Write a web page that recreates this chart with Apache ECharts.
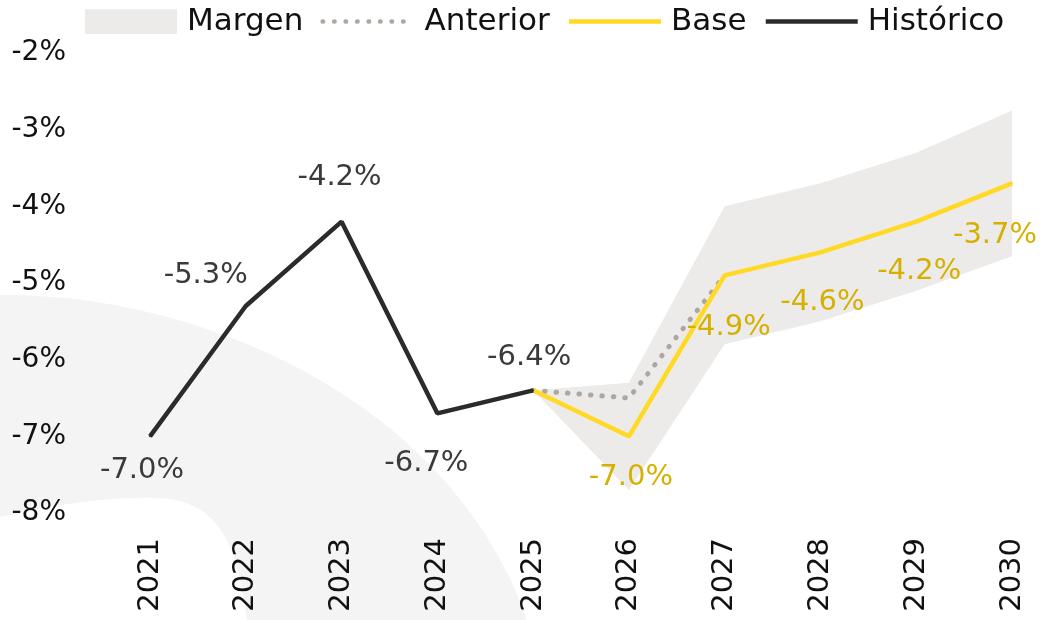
<!DOCTYPE html>
<html>
<head>
<meta charset="utf-8">
<script src="https://cdn.jsdelivr.net/npm/echarts@6/dist/echarts.min.js"></script>
<style>
  html, body { margin: 0; padding: 0; background: #fff; }
  #chart { width: 1043px; height: 620px; }
</style>
</head>
<body>
<div id="chart"></div>
<script>
// datos
const years = ['2021', '2022', '2023', '2024', '2025', '2026', '2027', '2028', '2029', '2030'];
const historico = [-7.0, -5.3, -4.2, -6.7, -6.4, null, null, null, null, null];
const base = [null, null, null, null, -6.4, -7.0, -4.9, -4.6, -4.2, -3.7];
const anterior = [null, null, null, null, -6.4, -6.5, -4.9, null, null, null];
const margenLow = [null, null, null, null, -6.4, -7.7, -5.8, -5.5, -5.1, -4.65];
const margenHigh = [null, null, null, null, -6.4, -6.3, -4.0, -3.7, -3.3, -2.75];
const yTicks = [-8, -7, -6, -5, -4, -3, -2];

// desplazamiento de etiquetas (centro respecto al punto)
const histOffsets = [[-8, 34], [-40, -31], [-2, -44], [-11, 50], [-4, -33]];
const baseOffsets = { 5: [2, 41], 6: [4, 52], 7: [2, 50], 8: [3, 50], 9: [-17, 52] };

const FONT = 'DejaVu Sans';
const fmt = v => v.toFixed(1) + '%';

// arco decorativo de fondo (curvas bezier muestreadas)
function bezier(p0, p1, p2, p3, n) {
  const pts = [];
  for (let i = 0; i <= n; i++) {
    const t = i / n, u = 1 - t;
    pts.push([
      u * u * u * p0[0] + 3 * u * u * t * p1[0] + 3 * u * t * t * p2[0] + t * t * t * p3[0],
      u * u * u * p0[1] + 3 * u * u * t * p1[1] + 3 * u * t * t * p2[1] + t * t * t * p3[1]
    ]);
  }
  return pts;
}
const arcPoints = [].concat(
  bezier([0, 295], [200, 293], [450, 400], [527, 620], 40),
  bezier([247, 620], [238, 560], [228, 502], [160, 498], 20),
  bezier([160, 498], [100, 496], [40, 508], [0, 517], 20)
);

const chart = echarts.init(document.getElementById('chart'));

const margenWidth = margenHigh.map((h, i) => (h == null || margenLow[i] == null) ? null : +(h - margenLow[i]).toFixed(3));

const histData = historico.map((v, i) => {
  if (v == null) return null;
  return {
    value: v,
    label: { show: true, position: 'inside', offset: histOffsets[i] }
  };
});

const baseData = base.map((v, i) => {
  if (v == null) return null;
  const off = baseOffsets[i];
  return {
    value: v,
    label: off ? { show: true, position: 'inside', offset: off } : { show: false }
  };
});

chart.setOption({
  animation: false,
  textStyle: { fontFamily: FONT },
  graphic: [{
    type: 'polygon',
    z: -10,
    shape: { points: arcPoints },
    style: { fill: '#f4f4f4' },
    silent: true
  }],
  legend: {
    top: 6,
    left: 85,
    padding: 0,
    itemWidth: 92,
    itemHeight: 25,
    itemGap: 17,
    itemStyle: { opacity: 0 },
    lineStyle: { width: 4.5 },
    textStyle: { fontSize: 31, color: '#111', fontFamily: FONT, padding: [0, 0, 0, 5] },
    data: [
      { name: 'Margen', icon: 'rect', itemStyle: { opacity: 1 } },
      { name: 'Anterior' },
      { name: 'Base' },
      { name: 'Histórico' }
    ]
  },
  grid: { left: 150, right: 31, top: 53, bottom: 107, containLabel: false },
  xAxis: {
    type: 'category',
    data: years,
    boundaryGap: false,
    axisLine: { show: false },
    axisTick: { show: false },
    splitLine: { show: false },
    axisLabel: {
      rotate: 90,
      margin: 25,
      fontSize: 29,
      color: '#111',
      fontFamily: FONT
    }
  },
  yAxis: {
    type: 'value',
    min: yTicks[0],
    max: yTicks[yTicks.length - 1],
    interval: 1,
    axisLine: { show: false },
    axisTick: { show: false },
    splitLine: { show: false },
    axisLabel: {
      margin: 84,
      fontSize: 28,
      color: '#111',
      fontFamily: FONT,
      formatter: v => v + '%'
    }
  },
  series: [
    {
      name: 'margenBase',
      type: 'line',
      stack: 'margen',
      stackStrategy: 'all',
      data: margenLow,
      symbol: 'none',
      lineStyle: { opacity: 0 },
      silent: true,
      z: 1
    },
    {
      name: 'Margen',
      type: 'line',
      stack: 'margen',
      stackStrategy: 'all',
      data: margenWidth,
      symbol: 'none',
      color: '#ecebe9',
      lineStyle: { opacity: 0 },
      areaStyle: { color: '#ecebe9', opacity: 1 },
      silent: true,
      z: 1
    },
    {
      name: 'Anterior',
      type: 'line',
      data: anterior,
      symbol: 'none',
      color: '#aea69f',
      lineStyle: { color: '#aea69f', width: 5, type: [0.5, 11], cap: 'round' },
      z: 2
    },
    {
      name: 'Base',
      type: 'line',
      data: baseData,
      symbol: 'circle',
      symbolSize: 2,
      color: '#ffd923',
      itemStyle: { color: '#ffd923' },
      lineStyle: { color: '#ffd923', width: 4.5 },
      label: {
        fontSize: 29,
        color: '#d6b000',
        fontFamily: FONT,
        formatter: p => fmt(p.value)
      },
      z: 3
    },
    {
      name: 'Histórico',
      type: 'line',
      data: histData,
      symbol: 'circle',
      symbolSize: 2,
      color: '#2b2b2b',
      itemStyle: { color: '#2b2b2b' },
      lineStyle: { color: '#2b2b2b', width: 4.5 },
      label: {
        fontSize: 29,
        color: '#3a3a3a',
        fontFamily: FONT,
        formatter: p => fmt(p.value)
      },
      z: 4
    }
  ]
});
</script>
</body>
</html>
